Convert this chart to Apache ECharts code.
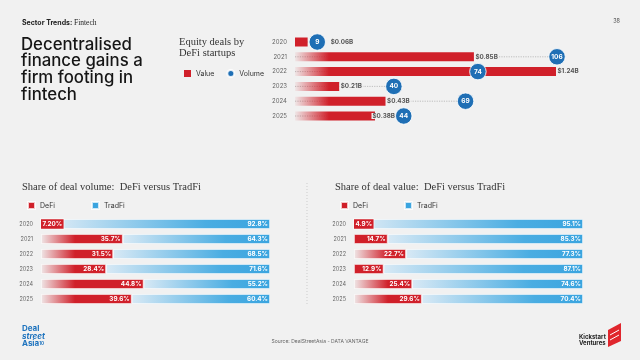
<!DOCTYPE html>
<html><head><meta charset="utf-8">
<script src="https://cdn.jsdelivr.net/npm/echarts@6/dist/echarts.min.js"></script>
<style>html,body{margin:0;padding:0;background:#f1f1f1}#c{width:640px;height:360px}</style>
</head><body><div id="c"></div>
<script>
// ---- data ----
var years = ['2020','2021','2022','2023','2024','2025'];
var dealValue = [0.06, 0.85, 1.24, 0.21, 0.43, 0.38];   // $B
var dealVolume = [9, 106, 74, 40, 69, 44];
var volDefi = ['7.20','35.7','31.5','28.4','44.8','39.6'];
var volTrad = ['92.8','64.3','68.5','71.6','55.2','60.4'];
var valDefi = ['4.9','14.7','22.7','12.9','25.4','29.6'];
var valTrad = ['95.1','85.3','77.3','87.1','74.6','70.4'];

var RED = '#d0202a', BLUE = '#1f6fb5', LBLUE = '#3aa4df', BG = '#f1f1f1';
var chart = echarts.init(document.getElementById('c'), null, {renderer:'canvas'});

var TL = 295, TW = 270, TTOP = 34.6, TH = 88.8;
var BL1 = 41, BL2 = 354, BW = 229, BTOP = 216.5, BH = 90;

function redFade(x0){
  return new echarts.graphic.LinearGradient(x0, 0, x0 + 34, 0, [
    {offset:0, color:'rgba(208,32,42,0.05)'},{offset:1, color:RED}], true);
}
function blueFade(){
  return new echarts.graphic.LinearGradient(0,0,1,0,[
    {offset:0,color:'#d8e9f5'},{offset:0.7,color:'#4aade2'},{offset:1,color:LBLUE}]);
}

var valueItems = dealValue.map(function(v){
  return {value:v, itemStyle:{color: v < 0.1 ? RED : redFade(TL)}};
});
var valueLabelItems = dealValue.map(function(v,i){
  var it = {value:v};
  if (i === 0) it.label = {distance: 22};
  if (i === 5) it.label = {offset: [-4, 0]};
  return it;
});

function stackItems(arr, x0, isRed){
  return arr.map(function(s){
    var v = Number(s);
    var px = v/100*BW;
    var it = {value:v, itemStyle:{color: isRed ? (px < 40 ? RED : redFade(x0)) : blueFade()}};
    if (isRed && px < 25) {
      it.label = {position:'insideLeft', distance:0, backgroundColor:RED, padding:[2,1.5,1.5,1.5],
        borderColor:'rgba(255,255,255,0.75)', borderWidth:0.8};
    }
    return it;
  });
}

function yCat(gi){
  return {type:'category', gridIndex:gi, data:years, inverse:true,
    axisLine:{show:false}, axisTick:{show:false},
    axisLabel:{fontSize: gi===0?6:5.5, color:'#666', margin:8, fontFamily:'Inter'}};
}
function xVal(gi,max){
  return {type:'value', gridIndex:gi, min:0, max:max, show:false, splitLine:{show:false}};
}
var pctLabel = function(arr){
  return {show:true, position:'insideRight', distance:2, color:'#fff', fontSize:6.3,
    fontWeight:'bold', fontFamily:'Inter',
    formatter:function(p){ return arr[p.dataIndex] + '%'; }};
};
var barBorder = {borderColor:'rgba(255,255,255,0.75)', borderWidth:0.8};

var option = {
  backgroundColor: BG,
  animation:false,
  textStyle:{fontFamily:'Inter'},
  grid:[
    {left:TL, top:TTOP, width:TW, height:TH},
    {left:BL1, top:BTOP, width:BW, height:BH},
    {left:BL2, top:BTOP, width:BW, height:BH}
  ],
  xAxis:[xVal(0, 1.24*TW/261), xVal(0, 106*TW/262), xVal(1,100), xVal(2,100)],
  yAxis:[yCat(0), yCat(1), yCat(2)],
  legend:[
    {left:179, top:64, itemWidth:7, itemHeight:7, itemGap:12, selectedMode:false,
     textStyle:{fontSize:7, color:'#333', fontFamily:'Inter'},
     data:[{name:'Value', icon:'rect', itemStyle:{color:RED}},
           {name:'Volume', icon:'circle', itemStyle:{color:BLUE}}]},
    {left:22, top:196, itemWidth:7, itemHeight:7, itemGap:36, selectedMode:false,
     textStyle:{fontSize:7, color:'#333', fontFamily:'Inter'},
     data:[{name:'DeFi', icon:'rect', itemStyle:{color:RED}},
           {name:'TradFi', icon:'rect', itemStyle:{color:LBLUE}}]},
    {left:335, top:196, itemWidth:7, itemHeight:7, itemGap:36, selectedMode:false,
     textStyle:{fontSize:7, color:'#333', fontFamily:'Inter'},
     data:[{name:'DeFi', icon:'rect', itemStyle:{color:RED}},
           {name:'TradFi', icon:'rect', itemStyle:{color:LBLUE}}]}
  ],
  series:[
    {type:'custom', name:'guide', xAxisIndex:1, yAxisIndex:0, z:1,
     data: dealVolume.map(function(v,i){return [v, i];}),
     renderItem:function(params, api){
       var a = api.coord([0, api.value(1)]);
       var b = api.coord([api.value(0), api.value(1)]);
       return {type:'line', shape:{x1:a[0], y1:a[1], x2:b[0], y2:b[1]},
         style:{stroke:'#9a9a9a', lineWidth:0.6, lineDash:[1.2,1.2]}};
     }},
    {type:'bar', name:'Value', xAxisIndex:0, yAxisIndex:0, barWidth:9, z:2,
     data: valueItems},
    {type:'bar', name:'ValueLabel', xAxisIndex:0, yAxisIndex:0, barWidth:9, barGap:'-100%', z:3, silent:true,
     data: valueLabelItems, itemStyle:{color:'rgba(0,0,0,0)'},
     label:{show:true, position:'right', distance:0.5, color:'#555', fontSize:6.3, fontWeight:'bold',
       fontFamily:'Inter', backgroundColor:BG, padding:[0,1],
       formatter:function(p){ return '$' + p.value.toFixed(2) + 'B'; }}},
    {type:'scatter', name:'Volume', xAxisIndex:1, yAxisIndex:0, z:4, symbolSize:16.5,
     data: dealVolume,
     itemStyle:{color:BLUE, borderColor:'rgba(255,255,255,0.85)', borderWidth:1, opacity:1},
     label:{show:true, position:'inside', color:'#fff', fontSize:6.5, fontWeight:'bold', fontFamily:'Inter'}},

    {type:'bar', name:'DeFi', xAxisIndex:2, yAxisIndex:1, stack:'v', barWidth:10, z:3,
     data: stackItems(volDefi, BL1, true), itemStyle:barBorder, label:pctLabel(volDefi)},
    {type:'bar', name:'TradFi', xAxisIndex:2, yAxisIndex:1, stack:'v', barWidth:10, z:2,
     data: stackItems(volTrad, BL1, false), itemStyle:barBorder, label:pctLabel(volTrad)},
    {type:'bar', name:'DeFi', xAxisIndex:3, yAxisIndex:2, stack:'w', barWidth:10, z:3,
     data: stackItems(valDefi, BL2, true), itemStyle:barBorder, label:pctLabel(valDefi)},
    {type:'bar', name:'TradFi', xAxisIndex:3, yAxisIndex:2, stack:'w', barWidth:10, z:2,
     data: stackItems(valTrad, BL2, false), itemStyle:barBorder, label:pctLabel(valTrad)}
  ],
  graphic:[
    {type:'text', left:22, top:19, style:{text:'{a|Sector Trends: }{b|Fintech}',
      rich:{a:{fontSize:7, fontWeight:'bold', fill:'#222', fontFamily:'Inter'},
            b:{fontSize:7.5, fill:'#222', fontFamily:'Liberation Serif'}}}},
    {type:'text', right:20, top:18, style:{text:'38', fontSize:5.5, fill:'#555', fontFamily:'Inter'}},
    {type:'text', left:21, top:36, style:{text:'Decentralised\nfinance gains a\nfirm footing in\nfintech',
      fontSize:16.8, lineHeight:16.7, fontWeight:500, fill:'#161616', fontFamily:'Inter'}},
    {type:'text', left:179, top:37, style:{text:'Equity deals by\nDeFi startups',
      fontSize:10.5, lineHeight:11, fill:'#333', fontFamily:'Liberation Serif'}},
    {type:'text', left:22, top:182, style:{text:'Share of deal volume:  DeFi versus TradFi',
      fontSize:10.5, fill:'#333', fontFamily:'Liberation Serif'}},
    {type:'text', left:335, top:182, style:{text:'Share of deal value:  DeFi versus TradFi',
      fontSize:10.5, fill:'#333', fontFamily:'Liberation Serif'}},
    {type:'line', shape:{x1:307, y1:183, x2:307, y2:306}, style:{stroke:'#bbb', lineWidth:0.7, lineDash:[1,2]}},
    {type:'text', x:320, y:339, style:{text:'Source: DealStreetAsia - DATA VANTAGE',
      align:'center', textAlign:'center', fontSize:5, fill:'#666', fontFamily:'Inter'}},
    {type:'text', left:22, top:325, style:{text:'{d|Deal}\n{s|street}\n{d|Asia}{t|10}',
      rich:{d:{fontSize:8, fontWeight:'bold', fill:'#1e73be', fontFamily:'Inter', lineHeight:7.3},
            s:{fontSize:8, fontWeight:'bold', fontStyle:'italic', fill:'#1e73be', fontFamily:'Inter', lineHeight:7.3},
            t:{fontSize:4.5, fill:'#1e73be', fontFamily:'Inter', fontWeight:'bold'}}}},
    {type:'text', left:579, top:334, style:{text:'Kickstart\nVentures', fontSize:6, lineHeight:5.8,
      fontWeight:'bold', fill:'#222', fontFamily:'Inter'}},
    {type:'polygon', shape:{points:[[608,330],[621,323],[621,341],[608,347]]}, style:{fill:'#e0262d'}},
    {type:'polyline', shape:{points:[[610,335],[619,330]]}, style:{stroke:'#fff', lineWidth:1}},
    {type:'polyline', shape:{points:[[610,340],[619,335]]}, style:{stroke:'#fff', lineWidth:1}}
  ]
};
chart.setOption(option);
</script></body></html>
